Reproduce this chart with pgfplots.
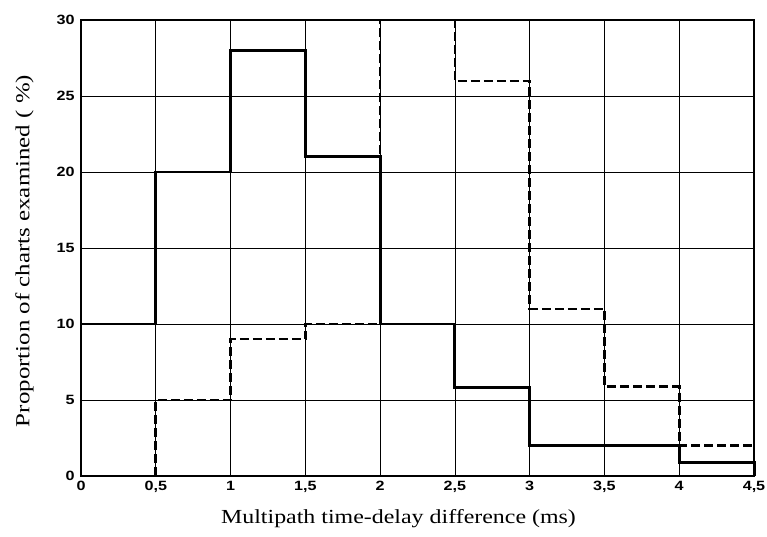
\documentclass[border=0pt]{standalone}
\usepackage{pgfplots}
\pgfplotsset{compat=1.18}
\usepackage{fontspec}
\setmainfont{Liberation Serif}
\newfontfamily\labfont[FakeStretch=1.2]{Liberation Serif}
\newfontfamily\ylabfont[FakeStretch=1.25]{Liberation Serif}
\newfontfamily\tickfont[FakeStretch=1.2]{Liberation Sans}
\usetikzlibrary{calc}
\begin{document}
\begin{tikzpicture}
\begin{axis}[
  name=ax,
  scale only axis,
  width=673bp, height=456bp,
  xmin=0, xmax=4.5, ymin=0, ymax=30,
  xtick={0,0.5,1,1.5,2,2.5,3,3.5,4,4.5},
  xticklabels={0,{0,5},1,{1,5},2,{2,5},3,{3,5},4,{4,5}},
  ytick={0,5,10,15,20,25,30},
  major tick length=0pt,
  grid=major,
  grid style={black, line width=0.7pt},
  axis line style={black, line width=1.4pt},
  tick label style={font=\tickfont\bfseries\fontsize{13.5}{13.5}\selectfont},
  /pgf/number format/assume math mode=true,
  xticklabel style={yshift=-2bp},
  yticklabel style={xshift=-3bp},
  xlabel={Multipath time-delay difference (ms)},
  ylabel={Proportion of charts examined ( \%)},
  xlabel style={font=\labfont\fontsize{20}{20}\selectfont, yshift=-10bp, xshift=-19bp},
  ylabel style={font=\ylabfont\fontsize{20}{20}\selectfont, yshift=16bp, xshift=-3bp},
  clip=false,
]
\addplot[const plot, black, line width=3pt] coordinates {
  (0,10) (0.5,20) (1,28) (1.5,21) (2,10) (2.5,5.8) (3,2) (3.5,2) (4,0.9) (4.5,0.9) (4.5,0)
};
\addplot[const plot, black, line width=2.6pt, dash pattern=on 9bp off 4bp] coordinates {
  (0.5,0) (0.5,5) (1,9) (1.5,10) (2,30) (2.5,26) (3,11) (3.5,5.9) (4,2) (4.5,2) (4.5,0)
};
\end{axis}
\pgfresetboundingbox
\path[use as bounding box] ($(ax.south west)+(-81bp,-61bp)$) rectangle ($(ax.north east)+(13bp,20bp)$);
\end{tikzpicture}
\end{document}
